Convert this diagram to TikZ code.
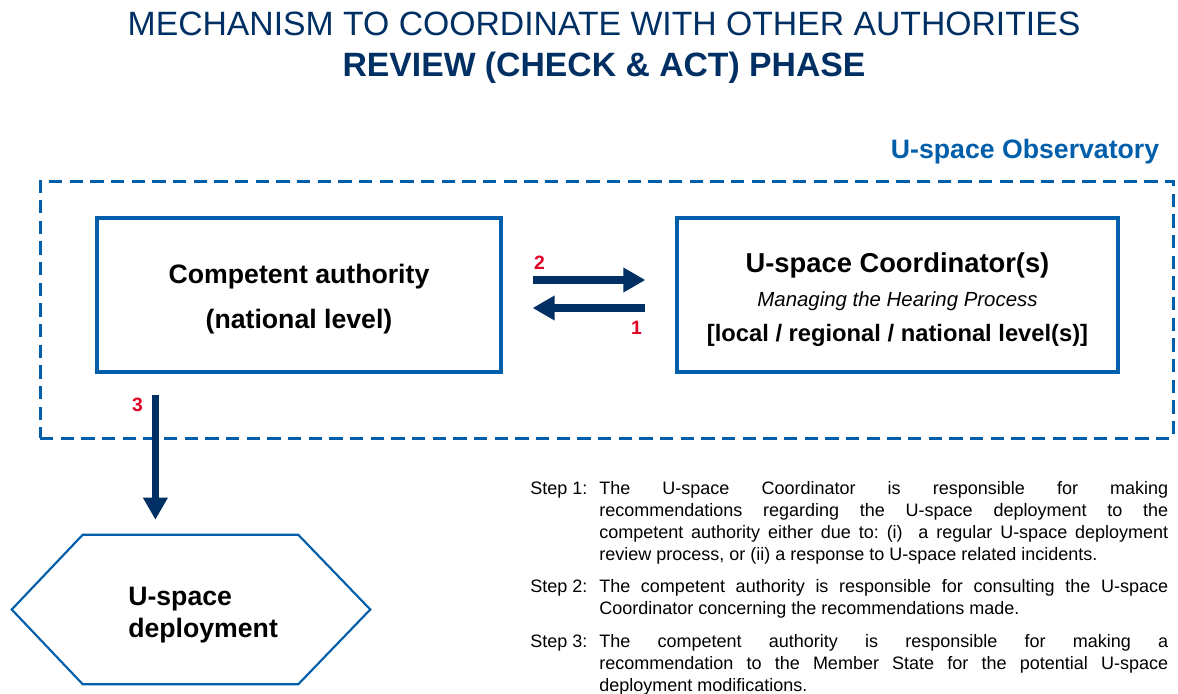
\documentclass[tikz,border=0pt]{standalone}
\usepackage{fontspec}
\setmainfont{Liberation Sans}
\usepackage{array}
\usetikzlibrary{arrows.meta, positioning, calc}
\definecolor{EuroNavy}{RGB}{0,48,99}
\definecolor{FrameBlue}{RGB}{0,94,170}
\definecolor{StepRed}{RGB}{226,0,36}
\tolerance=10000
\hbadness=10000
\frenchspacing

\begin{document}
\begin{tikzpicture}[x=0.75pt, y=-0.75pt,
    box/.style={draw=FrameBlue, line width=2.4pt, inner sep=0pt, align=center},
    flow/.style={-{Triangle[length=16.5pt, width=17.5pt]}, line width=6.5pt, EuroNavy},
    num/.style={text=StepRed, font=\fontsize{14.5}{17}\selectfont\bfseries, inner sep=0pt}]
    \useasboundingbox (0,0) rectangle (1178,693);

    % Title
    \node[EuroNavy, font=\fontsize{25.3}{29}\selectfont, anchor=base] (title) at (604,35) {MECHANISM TO COORDINATE WITH OTHER AUTHORITIES};
    \node[EuroNavy, font=\fontsize{25.3}{29}\selectfont\bfseries, anchor=base] (subtitle) at (604,76) {REVIEW (CHECK \& ACT) PHASE};

    % Observatory frame
    \node[draw=FrameBlue, line width=2.25pt, dash pattern=on 10pt off 5.5pt, minimum width=849.75pt, minimum height=192.75pt] (observatory) at (606.5,309.5) {};
    \node[FrameBlue, font=\fontsize{20}{24}\selectfont\bfseries, anchor=base east, inner sep=0pt] (obslabel) at ([xshift=-11.25pt, yshift=15.75pt]observatory.north east) {U-space Observatory};

    % Authority and coordinator
    \node[box, minimum width=303pt, minimum height=115.5pt, font=\fontsize{20}{24}\selectfont\bfseries] (authority) at (299,295) {\rule{0pt}{20.5pt}Competent authority\\[9.5pt](national level)};
    \node[box, minimum width=330.75pt, minimum height=115.5pt, font=\fontsize{20}{24}\selectfont] (coordinator) at (897.5,295) {{\fontsize{20.5}{24}\selectfont\bfseries\rule{0pt}{21.75pt}U-space Coordinator(s)}\\[1.5pt]{\fontsize{15.3}{18}\selectfont\itshape Managing the Hearing Process}\\[2.5pt]{\fontsize{17.8}{22}\selectfont\bfseries [local / regional / national level(s)]}};

    % Hearing loop
    \draw[flow] ([xshift=22.5pt, yshift=11.25pt]authority.east) -- ([xshift=-22.5pt, yshift=11.25pt]coordinator.west) node[num, at start, xshift=5.25pt, yshift=12.75pt] {2};
    \draw[flow] ([xshift=-22.5pt, yshift=-9.75pt]coordinator.west) -- ([xshift=22.5pt, yshift=-9.75pt]authority.east) node[num, at start, xshift=-6.75pt, yshift=-15pt] {1};

    % Deployment
    \node[minimum width=268.5pt, minimum height=111.75pt, inner sep=0pt] (deployment) at (191,609.5) {};
    \draw[FrameBlue, line width=1.6pt] (deployment.west) -- ([xshift=53.25pt]deployment.north west) -- ([xshift=-54pt]deployment.north east) -- (deployment.east) -- ([xshift=-54pt]deployment.south east) -- ([xshift=53.25pt]deployment.south west) -- cycle;
    \node[font=\fontsize{20}{24}\selectfont\bfseries, align=left, anchor=west, inner sep=0pt] (deploylabel) at (128,615) {U-space\\deployment};

    \coordinate (dropstart) at ([xshift=45pt, yshift=-15.75pt]authority.south west);
    \coordinate (dropend) at (dropstart |- deployment.north);
    \draw[flow, line width=5.5pt] (dropstart) -- ([yshift=11.25pt]dropend) node[num, at start, xshift=-13.5pt, yshift=-7.5pt] {3};

    % Steps
    \node[anchor=base west, inner sep=0pt, font=\fontsize{13.5}{16.5}\selectfont] (steps) at (530,494) {%
      \begin{tabular}[t]{@{}p{51.75pt}@{}p{426.75pt}@{}}
      Step 1: & The U-space Coordinator is responsible for making\linebreak recommendations regarding the U-space deployment to the\linebreak competent authority either due to: (i)\ \ a regular U-space deployment\linebreak review process, or (ii) a response to U-space related incidents.\\ \noalign{\vskip 8pt}
      Step 2: & The competent authority is responsible for consulting the U-space\linebreak Coordinator concerning the recommendations made.\\ \noalign{\vskip 8pt}
      Step 3: & The competent authority is responsible for making a\linebreak recommendation to the Member State for the potential U-space\linebreak deployment modifications.
      \end{tabular}};
\end{tikzpicture}
\end{document}
